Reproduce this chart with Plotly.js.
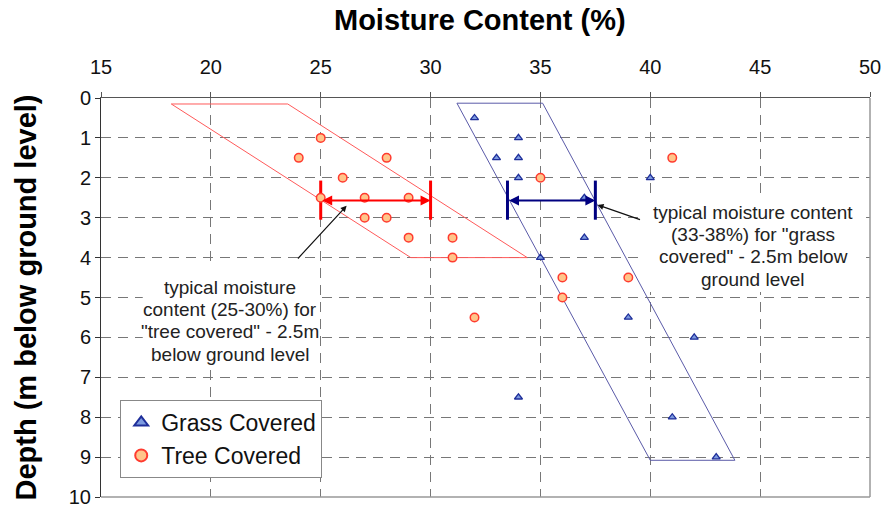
<!DOCTYPE html>
<html>
<head>
<meta charset="utf-8">
<script src="https://cdn.plot.ly/plotly-3.0.1.min.js"></script>
<style>html,body{margin:0;padding:0;background:#fff;}#chart{width:884px;height:509px;}</style>
</head>
<body>
<div id="chart"></div>
<script>
// Grass covered samples
const grassMoisture = [32, 34, 33, 34, 34, 40, 37, 37, 35, 39, 42, 34, 41, 43];
const grassDepth    = [0.5, 1, 1.5, 1.5, 2, 2, 2.5, 3.5, 4, 5.5, 6, 7.5, 8, 9];
// Tree covered samples
const treeMoisture = [25, 24, 28, 41, 26, 35, 25, 27, 29, 27, 28, 29, 31, 31, 36, 39, 36, 32];
const treeDepth    = [1, 1.5, 1.5, 1.5, 2, 2, 2.5, 2.5, 2.5, 3, 3, 3.5, 3.5, 4, 4.5, 4.5, 5, 5.5];
// Envelope polygons (moisture, depth)
const treeEnvX  = [18.2, 23.5, 34.4, 29.1, 18.2];
const treeEnvY  = [0.15, 0.15, 4.0, 4.0, 0.15];
const grassEnvX = [31.2, 35.1, 43.85, 40.0, 31.2];
const grassEnvY = [0.13, 0.13, 9.08, 9.08, 0.13];
// Typical ranges at 2.5 m
const treeRange  = [25, 30];
const grassRange = [33.5, 37.5];
const rangeDepth = 2.57;
const barTop = 2.07, barBottom = 3.05;
// Axis ticks
const xTicks = [15, 20, 25, 30, 35, 40, 45, 50];
const yTicks = [0, 1, 2, 3, 4, 5, 6, 7, 8, 9, 10];
// Note texts (one entry per line)
const treeNote  = ['typical moisture', 'content (25-30%) for', '"tree covered" - 2.5m', 'below ground level'];
const grassNote = ['typical moisture content', '(33-38%) for "grass', 'covered" - 2.5m below', 'ground level'];

const RED = '#ff0000', NAVY = '#000080';
const FAM = 'Liberation Sans, Arial, sans-serif';

function bar(x, color) {
  return {x: [x, x], y: [barTop, barBottom], mode: 'lines', showlegend: false,
          hoverinfo: 'skip', line: {color: color, width: 3}};
}

const traces = [
  {x: treeEnvX, y: treeEnvY, mode: 'lines', showlegend: false, hoverinfo: 'skip',
   line: {color: '#ff5a5a', width: 1}},
  {x: grassEnvX, y: grassEnvY, mode: 'lines', showlegend: false, hoverinfo: 'skip',
   line: {color: '#5a5aa8', width: 1}},
  bar(treeRange[0], RED), bar(treeRange[1], RED),
  bar(grassRange[0], NAVY), bar(grassRange[1], NAVY),
  {x: grassMoisture, y: grassDepth, mode: 'markers', name: 'Grass Covered', type: 'scatter',
   marker: {symbol: 'triangle-up', size: 7, color: '#7d9be0', line: {color: '#1f2f9a', width: 1.3}}},
  {x: treeMoisture, y: treeDepth, mode: 'markers', name: 'Tree Covered', type: 'scatter',
   marker: {symbol: 'circle', size: 8.5, color: '#ffc58a', line: {color: '#ff3b2f', width: 1.5}}}
];

const txtFont = {family: FAM, size: 19, color: '#222'};

const annotations = [
  {x: treeRange[1], y: rangeDepth, ax: treeRange[0], ay: rangeDepth, axref: 'x', ayref: 'y',
   xref: 'x', yref: 'y', text: '', showarrow: true, arrowside: 'end+start', arrowhead: 2,
   arrowsize: 1, arrowwidth: 2, arrowcolor: RED},
  {x: grassRange[1], y: rangeDepth, ax: grassRange[0], ay: rangeDepth, axref: 'x', ayref: 'y',
   xref: 'x', yref: 'y', text: '', showarrow: true, arrowside: 'end+start', arrowhead: 2,
   arrowsize: 1, arrowwidth: 2, arrowcolor: NAVY},
  {x: 26.18, y: 2.7, ax: 23.9, ay: 4.06, axref: 'x', ayref: 'y', xref: 'x', yref: 'y',
   text: '', showarrow: true, arrowhead: 2, arrowsize: 1, arrowwidth: 1.2, arrowcolor: '#111'},
  {x: 37.6, y: 2.68, ax: 39.6, ay: 3.06, axref: 'x', ayref: 'y', xref: 'x', yref: 'y',
   text: '', showarrow: true, arrowhead: 2, arrowsize: 1, arrowwidth: 1.2, arrowcolor: '#111'},
  {x: 0.5, y: 1, xref: 'paper', yref: 'paper', yshift: 96, xshift: -6, showarrow: false,
   text: '<b>Moisture Content (%)</b>', font: {family: FAM, size: 29, color: '#000'}},
  {x: 0, y: 0.5, xref: 'paper', yref: 'paper', xshift: -94, showarrow: false, textangle: -90,
   text: '<b>Depth (m below ground level)</b>', font: {family: FAM, size: 29, color: '#000'}}
];
const treeLineY = [4.74, 5.29, 5.84, 6.42];
const grassLineY = [2.86, 3.41, 3.98, 4.54];
treeNote.forEach((t, i) => annotations.push({x: 20.87, y: treeLineY[i], xref: 'x', yref: 'y',
  showarrow: false, text: t, font: txtFont}));
grassNote.forEach((t, i) => annotations.push({x: 44.68, y: grassLineY[i], xref: 'x', yref: 'y',
  showarrow: false, text: t, font: txtFont}));

const layout = {
  width: 884, height: 509,
  margin: {l: 101, r: 14, t: 98, b: 12},
  paper_bgcolor: '#fff', plot_bgcolor: '#fff',
  font: {family: FAM, color: '#111'},
  xaxis: {side: 'top', range: [15, 50], tickvals: xTicks, ticktext: xTicks.map(String),
          showgrid: true, gridcolor: '#777', griddash: '10px,7px', gridwidth: 1,
          zeroline: false, showline: true, linecolor: '#555', linewidth: 1,
          ticks: 'outside', ticklen: 5, tickcolor: '#555', ticklabelstandoff: 10,
          tickfont: {size: 20, color: '#111'}, title: {text: ''}},
  yaxis: {autorange: false, range: [10, 0], tickvals: yTicks, ticktext: yTicks.map(String),
          showgrid: true, gridcolor: '#777', griddash: '10px,7px', gridwidth: 1,
          zeroline: false, showline: true, linecolor: '#333', linewidth: 1,
          ticks: 'outside', ticklen: 5, tickcolor: '#333',
          tickfont: {size: 20, color: '#111'}, title: {text: ''}},
  showlegend: true,
  legend: {x: 0.025, y: 0.243, xanchor: 'left', yanchor: 'top',
           bgcolor: '#fff', bordercolor: '#888', borderwidth: 1, itemwidth: 30,
           font: {size: 23, color: '#111'}, itemsizing: 'constant'},
  shapes: [
    {type: 'rect', xref: 'x', yref: 'y', x0: 16.9, x1: 24.9, y0: 4.26, y1: 6.77,
     fillcolor: '#fff', line: {width: 0}, layer: 'between'},
    {type: 'rect', xref: 'x', yref: 'y', x0: 39.62, x1: 49.82, y0: 2.46, y1: 4.86,
     fillcolor: '#fff', line: {width: 0}, layer: 'between'},
    {type: 'line', xref: 'paper', yref: 'paper', x0: 1, x1: 1, y0: 0, y1: 1,
     line: {color: '#999', width: 1.5}},
    {type: 'line', xref: 'paper', yref: 'paper', x0: 0, x1: 1, y0: 0, y1: 0,
     line: {color: '#999', width: 1.5}}
  ],
  annotations: annotations
};

Plotly.newPlot('chart', traces, layout, {staticPlot: true, displayModeBar: false});
</script>
</body>
</html>
